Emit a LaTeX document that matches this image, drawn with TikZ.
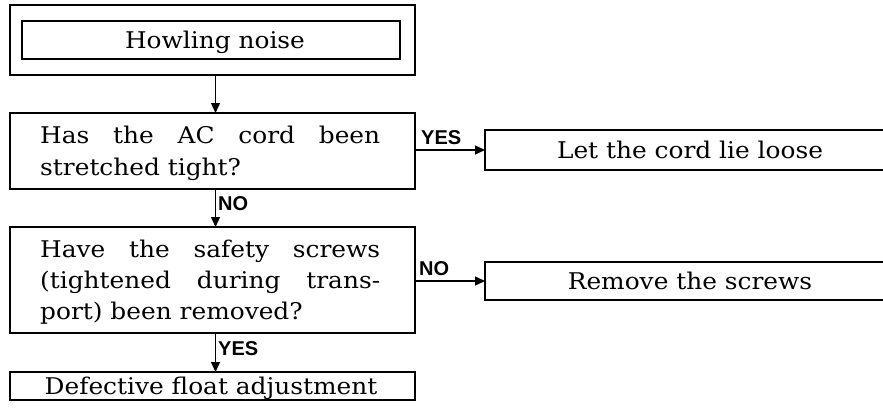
\documentclass[tikz,border=0pt]{standalone}
\usepackage{fontspec}
\setmainfont[FakeStretch=1.08]{DejaVu Serif}
\newfontfamily\labfont{Liberation Sans}
\usetikzlibrary{arrows.meta}
\tikzset{
  box/.style={draw, line width=1.4pt, inner sep=0pt, outer sep=0pt, anchor=north west},
  txt/.style={font=\fontsize{23}{31}\selectfont, inner sep=0pt},
  lab/.style={font=\labfont\bfseries\fontsize{20}{20}\selectfont, inner sep=0pt, anchor=base west},
  arr/.style={line width=1.4pt, -{Triangle[length=10pt,width=9pt]}}
}
\begin{document}
\begin{tikzpicture}[x=1pt,y=-1pt]
\clip (0,0) rectangle (883,410);
\fill[white] (0,0) rectangle (883,410);
% boxes
\node[box, minimum width=405pt, minimum height=70pt] (howl) at (10,5) {};
\node[box, minimum width=378pt, minimum height=38pt] (howlin) at (22,21) {};
\node[box, minimum width=405pt, minimum height=76pt] (q1) at (10,113) {};
\node[box, minimum width=420pt, minimum height=40pt] (let) at (485,130) {};
\node[box, minimum width=405pt, minimum height=106pt] (q2) at (10,227) {};
\node[box, minimum width=420pt, minimum height=38pt] (rem) at (485,262) {};
\node[box, minimum width=405pt, minimum height=28pt] (def) at (10,372) {};
% texts
\node[txt, anchor=base] (t0) at (215,48) {Howling noise};
\node[txt, anchor=base west] (t1a) at (40,143) {\makebox[340pt][s]{Has the AC cord been}};
\node[txt, anchor=base west] (t1b) at (40,175) {stretched tight?};
\node[txt, anchor=base] (t2) at (690,158) {Let the cord lie loose};
\node[txt, anchor=base west] (t3a) at (40,257) {\makebox[340pt][s]{Have the safety screws}};
\node[txt, anchor=base west] (t3b) at (40,288) {\makebox[340pt][s]{(tightened during trans-}};
\node[txt, anchor=base west] (t3c) at (40,319) {port) been removed?};
\node[txt, anchor=base] (t4) at (690,289) {Remove the screws};
\node[txt, anchor=base] (t5) at (211,394) {Defective float adjustment};
% connectors
\draw[arr] ([xshift=3pt]howl.south) -- ([xshift=3pt]q1.north);
\draw[arr] ([xshift=3pt]q1.south) -- ([xshift=3pt]q2.north);
\draw[arr] ([xshift=3pt]q2.south) -- ([xshift=3pt]def.north);
\draw[arr] (q1.east |- let.west) -- (let.west);
\draw[arr] (q2.east |- rem.west) -- (rem.west);
% labels
\node[lab] (l1) at (421,144) {YES};
\node[lab] (l2) at (218,210) {NO};
\node[lab] (l3) at (419,275) {NO};
\node[lab] (l4) at (218,355) {YES};
\end{tikzpicture}
\end{document}
